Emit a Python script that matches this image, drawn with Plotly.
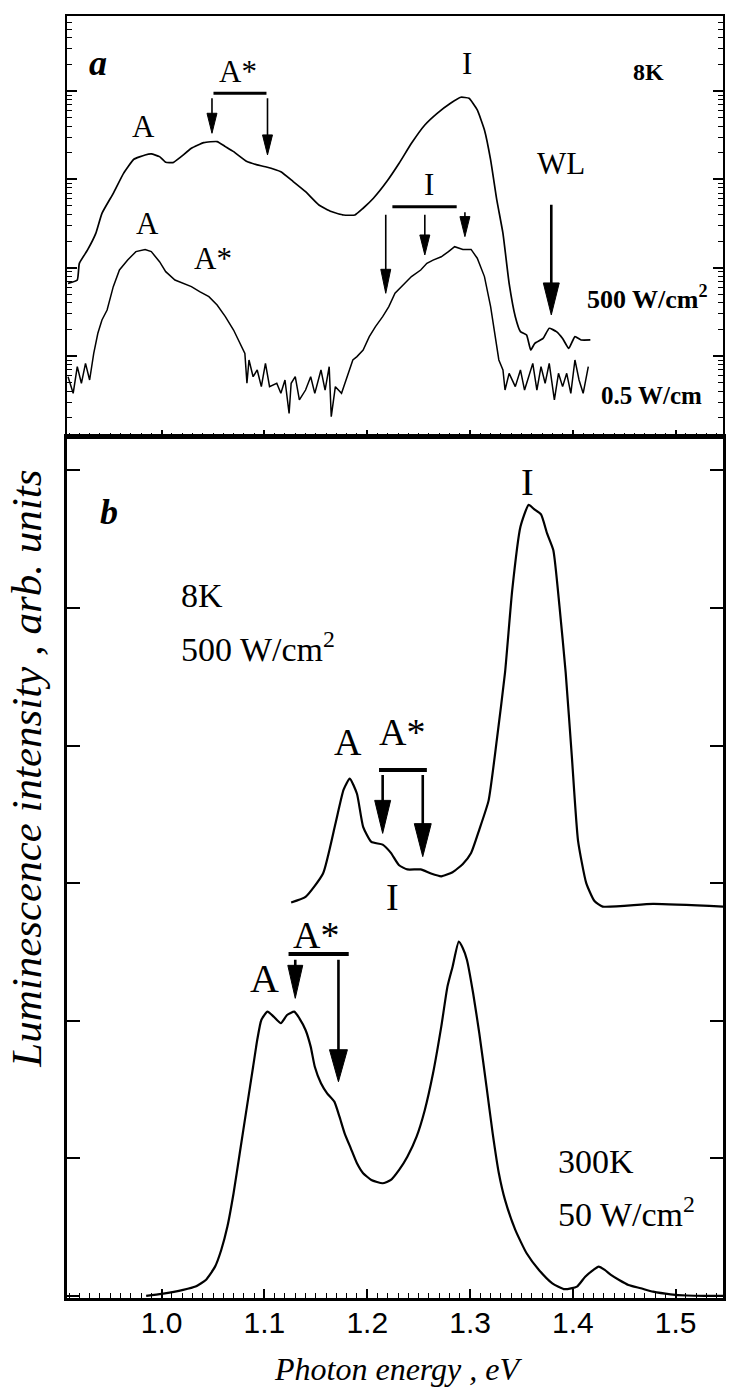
import plotly.graph_objects as go

# ---------------- data ----------------
# panel a (8K, log scale): 500 W/cm2 spectrum
energy_a_high = [0.909, 0.918, 0.920, 0.928, 0.936, 0.942, 0.953, 0.963, 0.973, 0.984,
                 0.990, 0.998, 1.004, 1.011, 1.019, 1.029, 1.041, 1.054, 1.062, 1.070,
                 1.083, 1.093, 1.101, 1.116, 1.128, 1.140, 1.153, 1.165, 1.177, 1.188,
                 1.196, 1.206, 1.219, 1.231, 1.243, 1.256, 1.268, 1.281, 1.291, 1.299,
                 1.307, 1.314, 1.320, 1.326, 1.332, 1.338, 1.344, 1.349, 1.355, 1.359,
                 1.363, 1.371, 1.377, 1.384, 1.390, 1.396, 1.402, 1.408, 1.417]
intensity_a_high = [6.65, 7.26, 11.2, 15.9, 24.5, 41.3, 69.5, 117, 169, 189,
                    194, 181, 156, 155, 181, 225, 261, 268, 235, 206,
                    159, 146, 139, 122, 94.4, 72.6, 51.3, 43.2, 39.5, 39.5,
                    47.1, 61.1, 94.4, 152, 256, 413, 560, 728, 851, 828,
                    611, 363, 166, 58.5, 24.5, 6.65, 2.79, 1.89, 1.73, 1.17,
                    1.39, 1.58, 2.06, 1.89, 1.58, 1.22, 1.66, 1.52, 1.52]

# panel a: 0.5 W/cm2 spectrum
energy_a_low = [0.909, 0.914, 0.918, 0.922, 0.926, 0.930, 0.934, 0.938, 0.942, 0.947,
                0.953, 0.959, 0.967, 0.975, 0.984, 0.990, 0.998, 1.004, 1.013, 1.021,
                1.029, 1.037, 1.046, 1.054, 1.062, 1.070, 1.076, 1.081, 1.083, 1.085,
                1.089, 1.093, 1.097, 1.101, 1.105, 1.112, 1.116, 1.120, 1.124, 1.126,
                1.130, 1.134, 1.140, 1.145, 1.149, 1.155, 1.159, 1.163, 1.165, 1.169,
                1.175, 1.182, 1.186, 1.190, 1.196, 1.202, 1.208, 1.215, 1.221, 1.227,
                1.235, 1.243, 1.252, 1.258, 1.264, 1.272, 1.279, 1.285, 1.293, 1.301,
                1.307, 1.314, 1.320, 1.324, 1.328, 1.332, 1.334, 1.338, 1.344, 1.349,
                1.353, 1.357, 1.361, 1.365, 1.369, 1.373, 1.377, 1.382, 1.386, 1.390,
                1.394, 1.398, 1.402, 1.406, 1.410, 1.415]
intensity_a_low = [0.583, 0.378, 0.757, 0.491, 0.826, 0.535, 1.07, 1.81, 2.56, 3.32,
                   6.10, 9.42, 12.2, 15.2, 16.1, 15.2, 11.7, 9.02, 7.26, 6.65,
                   6.10, 5.36, 4.70, 3.78, 2.79, 1.97, 1.39, 1.07, 0.491, 0.902,
                   0.583, 0.695, 0.450, 0.826, 0.450, 0.491, 0.378, 0.535, 0.224, 0.491,
                   0.583, 0.318, 0.412, 0.583, 0.378, 0.695, 0.412, 0.757, 0.206, 0.450,
                   0.378, 0.637, 0.902, 0.984, 1.17, 1.66, 2.15, 2.79, 3.62, 5.13,
                   6.37, 7.93, 9.42, 11.2, 12.2, 13.3, 15.2, 17.3, 16.1, 16.1,
                   12.8, 7.93, 3.62, 1.81, 0.902, 0.695, 0.412, 0.637, 0.450, 0.695,
                   0.412, 0.583, 0.826, 0.412, 0.757, 0.491, 0.826, 0.318, 0.637, 0.450,
                   0.637, 0.378, 0.902, 0.535, 0.378, 0.757]

# panel b (linear): 8K, 500 W/cm2 (offset)
energy_b_8k = [1.126, 1.140, 1.157, 1.169, 1.177, 1.183, 1.190, 1.196, 1.204, 1.215,
               1.223, 1.231, 1.239, 1.252, 1.262, 1.272, 1.283, 1.293, 1.301, 1.309,
               1.318, 1.326, 1.334, 1.341, 1.349, 1.357, 1.362, 1.369, 1.375, 1.381,
               1.387, 1.393, 1.399, 1.405, 1.413, 1.421, 1.429, 1.478, 1.546]
intensity_b_8k = [2.86, 2.90, 3.07, 3.43, 3.68, 3.76, 3.65, 3.41, 3.30, 3.28,
                  3.22, 3.13, 3.10, 3.10, 3.07, 3.05, 3.08, 3.14, 3.22, 3.39,
                  3.60, 4.04, 4.53, 5.13, 5.59, 5.75, 5.72, 5.68, 5.54, 5.42,
                  5.01, 4.53, 3.92, 3.31, 3.00, 2.87, 2.83, 2.85, 2.83]

# panel b: 300K, 50 W/cm2
energy_b_300k = [0.985, 1.000, 1.021, 1.033, 1.043, 1.052, 1.058, 1.064, 1.070, 1.076,
                 1.083, 1.089, 1.093, 1.097, 1.103, 1.109, 1.116, 1.122, 1.129, 1.134,
                 1.140, 1.145, 1.149, 1.155, 1.161, 1.168, 1.173, 1.178, 1.184, 1.190,
                 1.196, 1.204, 1.215, 1.223, 1.231, 1.239, 1.248, 1.256, 1.264, 1.272,
                 1.278, 1.283, 1.289, 1.293, 1.297, 1.303, 1.309, 1.316, 1.322, 1.328,
                 1.334, 1.344, 1.355, 1.367, 1.380, 1.392, 1.404, 1.412, 1.420, 1.425,
                 1.431, 1.437, 1.445, 1.454, 1.466, 1.478, 1.495, 1.511, 1.528, 1.546]
intensity_b_300k = [0.0, 0.015, 0.044, 0.068, 0.116, 0.213, 0.334, 0.504, 0.746, 1.037,
                    1.376, 1.666, 1.860, 2.006, 2.066, 2.030, 1.982, 2.042, 2.066, 2.018,
                    1.933, 1.812, 1.666, 1.546, 1.473, 1.412, 1.303, 1.182, 1.073, 0.964,
                    0.892, 0.843, 0.819, 0.843, 0.916, 1.012, 1.158, 1.352, 1.618, 1.957,
                    2.248, 2.393, 2.575, 2.527, 2.442, 2.200, 1.909, 1.522, 1.182, 0.892,
                    0.698, 0.480, 0.310, 0.189, 0.092, 0.049, 0.068, 0.140, 0.189, 0.213,
                    0.189, 0.153, 0.116, 0.080, 0.056, 0.031, 0.012, 0.003, 0.0, 0.0]

x_tick_vals = [1.0, 1.1, 1.2, 1.3, 1.4, 1.5]
x_tick_text = ["1.0", "1.1", "1.2", "1.3", "1.4", "1.5"]

# ---------------- figure ----------------
SERIF = "Liberation Serif, Times New Roman, serif"
SANS = "Liberation Sans, Arial, sans-serif"

X_RANGE = [0.908, 1.546]
YA_RANGE = [-0.917, 3.85]      # log10 units
YB_RANGE = [-0.015, 6.243]
PLOT_W = 659
PA_H = 421
PB_H = 861
PX_PER_EV = PLOT_W / (X_RANGE[1] - X_RANGE[0])
PX_PER_DEC = PA_H / (YA_RANGE[1] - YA_RANGE[0])
PX_PER_UNIT_B = PB_H / (YB_RANGE[1] - YB_RANGE[0])

fig = go.Figure()
fig.add_trace(go.Scatter(x=energy_a_high, y=intensity_a_high, mode="lines",
                         line=dict(color="black", width=1.7, shape="spline", smoothing=0.4),
                         xaxis="x2", yaxis="y2"))
fig.add_trace(go.Scatter(x=energy_a_low, y=intensity_a_low, mode="lines",
                         line=dict(color="black", width=1.5), xaxis="x2", yaxis="y2"))
fig.add_trace(go.Scatter(x=energy_b_8k, y=intensity_b_8k, mode="lines",
                         line=dict(color="black", width=2.2, shape="spline", smoothing=0.5),
                         xaxis="x", yaxis="y"))
fig.add_trace(go.Scatter(x=energy_b_300k, y=intensity_b_300k, mode="lines",
                         line=dict(color="black", width=2.2, shape="spline", smoothing=0.5),
                         xaxis="x", yaxis="y"))

ann = []
shapes = []


def refs(panel):
    return ("x2", "y2") if panel == "a" else ("x", "y")


def text(t, x, y, size, panel, xanchor="center", bold=False, italic=False):
    s = t
    if italic:
        s = "<i>" + s + "</i>"
    if bold:
        s = "<b>" + s + "</b>"
    xr, yr = refs(panel)
    ann.append(dict(text=s, x=x, y=y, xref=xr, yref=yr, showarrow=False,
                    xanchor=xanchor, yanchor="middle",
                    font=dict(family=SERIF, size=size, color="black")))


def seg(x0, y0, x1, y1, panel, width):
    xr, yr = refs(panel)
    ann.append(dict(text="", x=x1, y=y1, ax=x0, ay=y0, xref=xr, yref=yr,
                    axref=xr, ayref=yr, showarrow=True, arrowhead=0,
                    arrowwidth=width, arrowcolor="black", standoff=0, startstandoff=0))


def arrow(x, y_tip, y_tail, panel, head_px, half_px, width):
    """Vertical down arrow; y given in axis units (log10 for panel a)."""
    xr, yr = refs(panel)
    per = PX_PER_DEC if panel == "a" else PX_PER_UNIT_B
    y_base = y_tip + head_px / per
    y_mid = y_tip + 0.5 * head_px / per
    seg(x, y_tail, x, y_mid, panel, width)
    hw = half_px / PX_PER_EV
    if panel == "a":
        yt, yb = 10 ** y_tip, 10 ** y_base
    else:
        yt, yb = y_tip, y_base
    shapes.append(dict(type="path", xref=xr, yref=yr,
                       path=f"M {x},{yt} L {x - hw},{yb} L {x + hw},{yb} Z",
                       fillcolor="black", line=dict(color="black", width=1)))


def bar(x0, x1, y, panel, width=3):
    seg(x0, y, x1, y, panel, width)


# panel a labels (y in log10 units)
text("a", 0.938, 3.315, 36, "a", bold=True, italic=True)
text("A*", 1.074, 3.22, 31, "a")
text("A", 0.982, 2.597, 31, "a")
text("I", 1.297, 3.315, 31, "a")
text("8K", 1.474, 3.22, 24, "a", bold=True)
text("WL", 1.388, 2.182, 31, "a")
text("500 W/cm<sup>2</sup>", 1.473, 0.668, 26, "a", bold=True)
text("0.5 W/cm", 1.425, -0.442, 25, "a", xanchor="left", bold=True)
text("A", 0.986, 1.503, 31, "a")
text("A*", 1.050, 1.106, 31, "a")
text("I", 1.260, 1.937, 31, "a")
bar(1.049, 1.102, 2.975, "a", 3)
arrow(1.049, 2.522, 2.937, "a", 20, 5, 1.6)
arrow(1.103, 2.277, 2.937, "a", 20, 5, 1.6)
arrow(1.379, 0.465, 1.729, "a", 32, 8, 2.6)
bar(1.223, 1.287, 1.691, "a", 3)
arrow(1.218, 0.710, 1.616, "a", 24, 5, 1.6)
arrow(1.256, 1.144, 1.616, "a", 20, 5, 1.6)
arrow(1.295, 1.352, 1.645, "a", 20, 5, 1.6)

# panel b labels
text("b", 0.949, 5.70, 36, "b", bold=True, italic=True)
text("I", 1.356, 5.918, 38, "b")
text("8K", 1.017, 5.094, 34, "b", xanchor="left")
text("500 W/cm<sup>2</sup>", 1.017, 4.719, 34, "b", xanchor="left")
text("A", 1.181, 4.028, 38, "b")
text("A*", 1.234, 4.101, 38, "b")
bar(1.210, 1.258, 3.823, "b", 4)
arrow(1.215, 3.362, 3.798, "b", 33, 8, 2.6)
arrow(1.254, 3.193, 3.798, "b", 33, 8.5, 2.6)
text("I", 1.225, 2.90, 38, "b")
text("A*", 1.150, 2.62, 38, "b")
bar(1.122, 1.182, 2.485, "b", 4)
text("A", 1.100, 2.31, 40, "b")
arrow(1.130, 2.163, 2.454, "b", 33, 7.5, 2.6)
arrow(1.172, 1.557, 2.454, "b", 32, 9, 2.6)
text("300K", 1.384, 0.976, 34, "b", xanchor="left")
text("50 W/cm<sup>2</sup>", 1.384, 0.613, 34, "b", xanchor="left")

# axis titles
ann.append(dict(text="<i>Photon energy , eV</i>", x=0.505, y=-0.0554, xref="paper", yref="paper",
                showarrow=False, xanchor="center", yanchor="middle",
                font=dict(family=SERIF, size=32, color="black")))
ann.append(dict(text="<i>Luminescence intensity , arb. units</i>", x=-0.0622, y=0.413,
                xref="paper", yref="paper", showarrow=False, textangle=-90,
                xanchor="center", yanchor="middle",
                font=dict(family=SERIF, size=43, color="black")))

split = PB_H / (PB_H + PA_H)

fig.update_layout(
    width=730, height=1393,
    margin=dict(l=67, r=4, t=16, b=95),
    paper_bgcolor="white", plot_bgcolor="white",
    showlegend=False,
    annotations=ann,
    shapes=shapes,
    xaxis=dict(domain=[0, 1], anchor="y", range=X_RANGE,
               tickmode="array", tickvals=x_tick_vals, ticktext=x_tick_text,
               ticks="inside", ticklen=9, tickwidth=1.5, tickcolor="black",
               minor=dict(ticks="inside", dtick=0.01, tick0=1.0, ticklen=5,
                          tickwidth=1.2, tickcolor="black", showgrid=False),
               showline=True, linewidth=2.5, linecolor="black", mirror=True,
               showgrid=False, zeroline=False, ticklabelstandoff=-4,
               tickfont=dict(family=SANS, size=30, color="black")),
    yaxis=dict(domain=[0, split], anchor="x", range=YB_RANGE,
               tick0=0, dtick=1, ticks="inside", ticklen=13, tickwidth=1.5,
               tickcolor="black", showticklabels=False,
               showline=True, linewidth=3, linecolor="black", mirror="ticks",
               showgrid=False, zeroline=False),
    xaxis2=dict(domain=[0, 1], anchor="y2", range=X_RANGE,
                tick0=1.0, dtick=0.1, ticks="inside", ticklen=7, tickwidth=1.5,
                tickcolor="black", showticklabels=False,
                minor=dict(ticks="inside", dtick=0.01, tick0=1.0, ticklen=4,
                           tickwidth=1.2, tickcolor="black", showgrid=False),
                showline=True, linewidth=2, linecolor="black", mirror=True,
                showgrid=False, zeroline=False),
    yaxis2=dict(domain=[split, 1], anchor="x2", type="log", range=YA_RANGE,
                dtick=1, ticks="inside", ticklen=10, tickwidth=1.5, tickcolor="black",
                showticklabels=False,
                minor=dict(ticks="inside", dtick="D1", ticklen=5, tickwidth=1.2,
                           tickcolor="black", showgrid=False),
                showline=True, linewidth=2, linecolor="black", mirror="ticks",
                showgrid=False, zeroline=False),
)

fig.write_html("out.html",
               config={"displayModeBar": False},
               post_script="document.body.style.margin='0px';"
                           "document.documentElement.style.overflow='hidden';")
